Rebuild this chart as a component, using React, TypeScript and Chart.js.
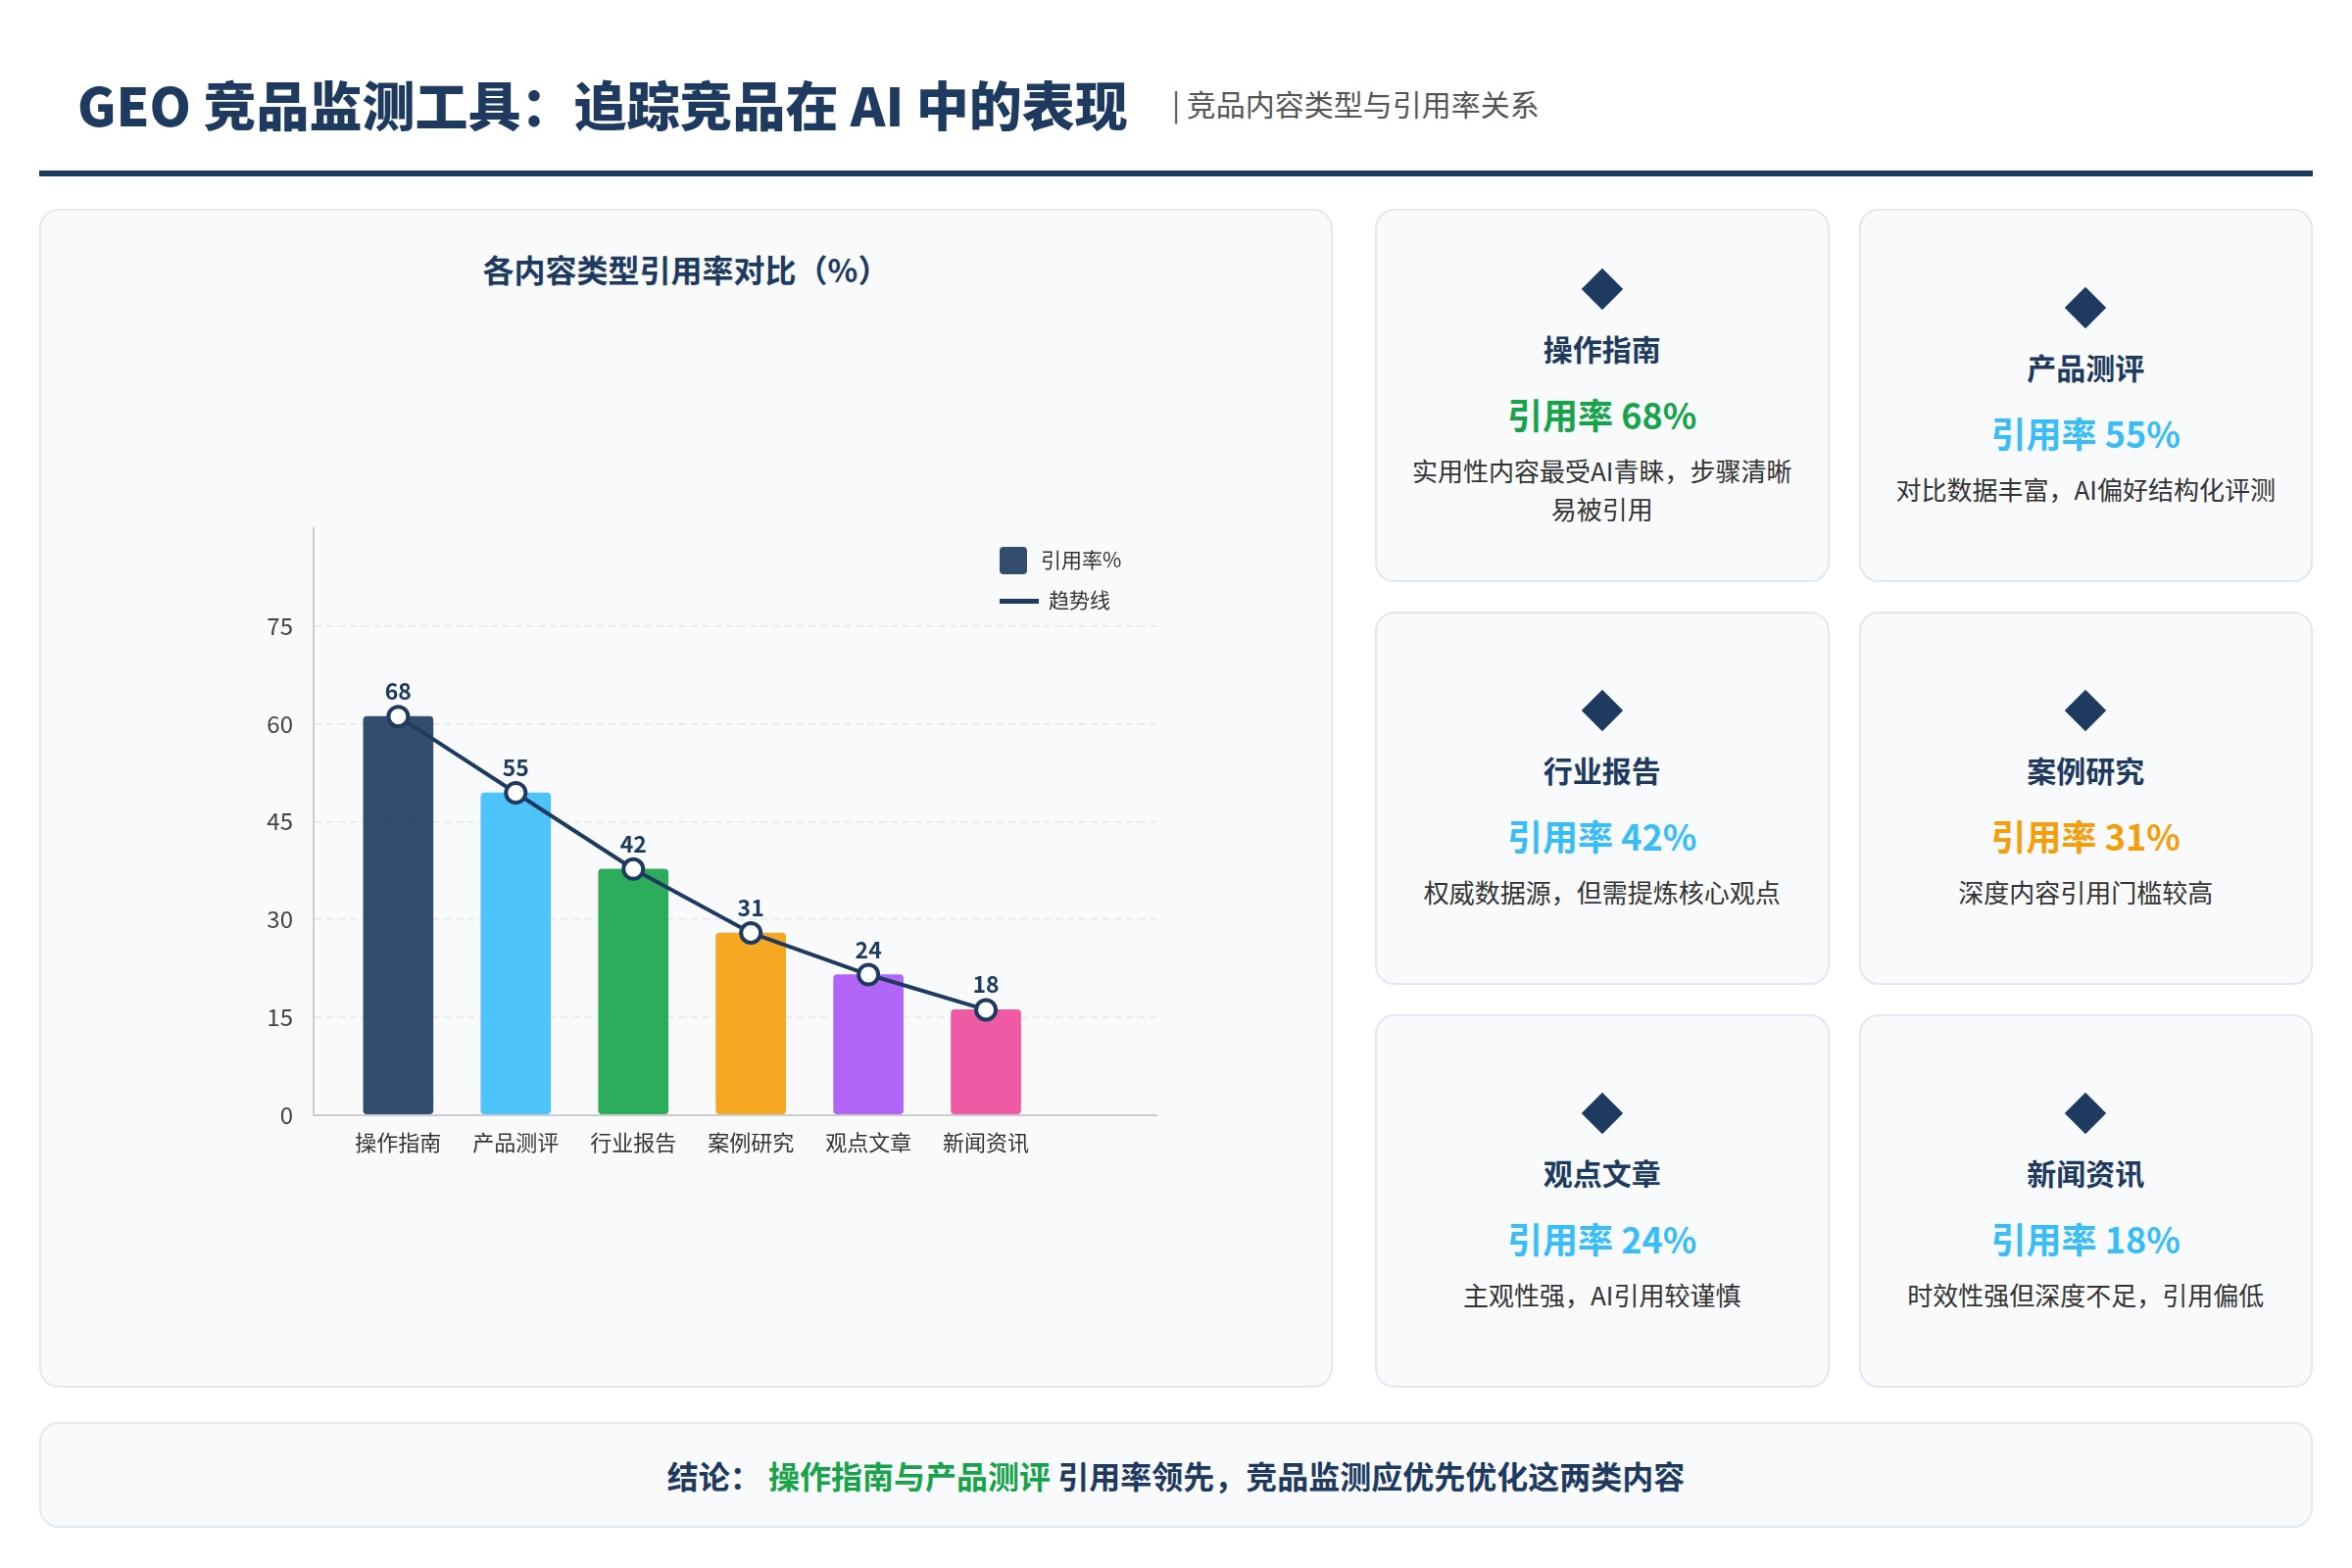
import { useEffect, useRef } from "react";
import { Chart, registerables } from "chart.js";

Chart.register(...registerables);

const FONT = "'Noto Sans CJK SC', 'Noto Sans', sans-serif";
const NAVY = "#1e3a5f";

const categories = ["操作指南", "产品测评", "行业报告", "案例研究", "观点文章", "新闻资讯"];
// rate shown in the labels and cards (%)
const citationRates = [68, 55, 42, 31, 24, 18];
// height the bars / trend points reach on the y axis, as drawn in the picture
const barHeights = [61.1, 49.4, 37.7, 27.9, 21.5, 16.1];
const barColors = [
  "rgba(30,58,95,0.9)",
  "rgba(56,189,248,0.9)",
  "rgba(22,163,74,0.9)",
  "rgba(245,158,11,0.9)",
  "rgba(168,85,247,0.9)",
  "rgba(236,72,153,0.9)",
];
const yTicks = [0, 15, 30, 45, 60, 75];

const rateColors = ["#16a34a", "#38bdf8", "#38bdf8", "#f59e0b", "#38bdf8", "#38bdf8"];
const notes = [
  "实用性内容最受AI青睐，步骤清晰易被引用",
  "对比数据丰富，AI偏好结构化评测",
  "权威数据源，但需提炼核心观点",
  "深度内容引用门槛较高",
  "主观性强，AI引用较谨慎",
  "时效性强但深度不足，引用偏低",
];

// draws the rate number above every trend point
const valueLabels = {
  id: "valueLabels",
  afterDatasetsDraw(chart: any) {
    const meta = chart.getDatasetMeta(0);
    const ctx = chart.ctx;
    ctx.save();
    ctx.font = `bold 23px ${FONT}`;
    ctx.fillStyle = NAVY;
    ctx.textAlign = "center";
    ctx.textBaseline = "alphabetic";
    meta.data.forEach((pt: any, i: number) => {
      ctx.fillText(String(citationRates[i]), pt.x, pt.y - 17);
    });
    ctx.restore();
  },
};

function RateChart() {
  const canvasRef = useRef<HTMLCanvasElement>(null);
  const chartRef = useRef<Chart | null>(null);

  useEffect(() => {
    if (!canvasRef.current) return;
    if (chartRef.current) chartRef.current.destroy();

    const points = categories.map((_, i) => ({ x: i, y: barHeights[i] }));

    chartRef.current = new Chart(canvasRef.current, {
      type: "bar",
      data: {
        datasets: [
          {
            type: "line",
            label: "趋势线",
            data: points,
            order: 0,
            borderColor: NAVY,
            borderWidth: 4,
            tension: 0,
            fill: false,
            pointRadius: 10,
            pointHoverRadius: 10,
            pointBackgroundColor: "#ffffff",
            pointBorderColor: NAVY,
            pointBorderWidth: 4,
          },
          {
            type: "bar",
            label: "引用率%",
            data: points,
            order: 1,
            backgroundColor: barColors,
            borderRadius: 4,
            borderSkipped: false,
            barThickness: 71,
          },
        ] as any,
      },
      options: {
        animation: false,
        responsive: true,
        maintainAspectRatio: false,
        layout: { padding: { top: 59, right: 40, bottom: 40, left: 0 } },
        plugins: {
          legend: { display: false },
          tooltip: { enabled: false },
        },
        scales: {
          x: {
            type: "linear",
            min: -0.72,
            max: 6.45,
            offset: false,
            afterBuildTicks: (s: any) => {
              s.ticks = categories.map((_, i) => ({ value: i }));
            },
            afterFit: (s: any) => {
              s.height = 42.5;
            },
            grid: { display: false, drawTicks: false, offset: false },
            border: { display: true, color: "#cccccc", width: 2 },
            ticks: {
              autoSkip: false,
              maxRotation: 0,
              padding: 15,
              color: "#333333",
              font: { family: FONT, size: 22 },
              callback: (v: any) => categories[v] ?? "",
            },
          },
          y: {
            min: 0,
            max: 90,
            afterBuildTicks: (s: any) => {
              s.ticks = yTicks.map((v) => ({ value: v }));
            },
            afterFit: (s: any) => {
              s.width = 80;
            },
            grid: {
              drawTicks: false,
              lineWidth: 1.5,
              color: (c: any) => (c.tick && c.tick.value === 0 ? "transparent" : "#e5e7eb"),
            },
            border: { display: true, color: "#cccccc", width: 2, dash: [7, 5] },
            ticks: {
              padding: 21,
              color: "#444444",
              font: { family: FONT, size: 24 },
            },
          },
        },
      } as any,
      plugins: [valueLabels],
    });

    return () => {
      if (chartRef.current) {
        chartRef.current.destroy();
        chartRef.current = null;
      }
    };
  }, []);

  return <canvas ref={canvasRef}></canvas>;
}

const cardBox = {
  position: "absolute" as const,
  background: "#f8fafc",
  border: "2px solid #e2e8f0",
  borderRadius: 20,
  boxSizing: "border-box" as const,
};

function InfoCard({ i }: { i: number }) {
  return (
    <div
      style={{
        ...cardBox,
        position: "relative",
        display: "flex",
        flexDirection: "column",
        alignItems: "center",
        justifyContent: "center",
        padding: "4px 30px 0 30px",
        textAlign: "center",
      }}
    >
      <div style={{ width: 42, height: 42, display: "flex", alignItems: "center", justifyContent: "center" }}>
        <div style={{ width: 30, height: 30, background: NAVY, transform: "rotate(45deg)" }} />
      </div>
      <div style={{ marginTop: 24, fontSize: 30, lineHeight: 1, fontWeight: 700, color: NAVY }}>{categories[i]}</div>
      <div style={{ marginTop: 34, fontSize: 36, lineHeight: 1, fontWeight: 700, color: rateColors[i] }}>
        引用率 {citationRates[i]}%
      </div>
      <div style={{ marginTop: 20, fontSize: 26, lineHeight: "39px", color: "#333333" }}>{notes[i]}</div>
    </div>
  );
}

export default function App() {
  return (
    <div
      style={{
        position: "absolute",
        left: 0,
        top: 0,
        width: 2400,
        height: 1600,
        background: "#ffffff",
        fontFamily: FONT,
      }}
    >
      <div style={{ position: "absolute", left: 79, top: 79, fontSize: 54, lineHeight: 1, fontWeight: 900, color: NAVY, whiteSpace: "nowrap" }}>
        GEO 竞品监测工具：追踪竞品在 AI 中的表现
      </div>
      <div style={{ position: "absolute", left: 1196, top: 90, fontSize: 30, lineHeight: 1, color: "#555555", whiteSpace: "nowrap" }}>
        | 竞品内容类型与引用率关系
      </div>
      <div style={{ position: "absolute", left: 40, top: 174, width: 2320, height: 6, background: NAVY }} />

      {/* chart card */}
      <div style={{ ...cardBox, left: 40, top: 213, width: 1320, height: 1203 }} />
      <div
        style={{
          position: "absolute",
          left: 40,
          top: 258,
          width: 1320,
          textAlign: "center",
          fontSize: 32,
          lineHeight: 1,
          fontWeight: 700,
          color: NAVY,
        }}
      >
        各内容类型引用率对比（%）
      </div>
      <div style={{ position: "absolute", left: 240, top: 480, width: 980, height: 740 }}>
        <RateChart />
      </div>
      {/* legend */}
      <div style={{ position: "absolute", left: 1020, top: 558, width: 28, height: 28, borderRadius: 4, background: barColors[0] }} />
      <div style={{ position: "absolute", left: 1062, top: 560, fontSize: 21, lineHeight: 1, color: "#333333", whiteSpace: "nowrap" }}>引用率%</div>
      <div style={{ position: "absolute", left: 1020, top: 611, width: 40, height: 5, background: NAVY }} />
      <div style={{ position: "absolute", left: 1070, top: 601, fontSize: 21, lineHeight: 1, color: "#333333", whiteSpace: "nowrap" }}>趋势线</div>

      {/* category cards */}
      <div
        style={{
          position: "absolute",
          left: 1403,
          top: 213,
          width: 957,
          height: 1203,
          display: "grid",
          gridTemplateColumns: "1fr 1fr",
          gridTemplateRows: "1fr 1fr 1fr",
          columnGap: 30,
          rowGap: 30,
        }}
      >
        {categories.map((_, i) => (
          <InfoCard key={i} i={i} />
        ))}
      </div>

      {/* conclusion */}
      <div
        style={{
          ...cardBox,
          left: 40,
          top: 1451,
          width: 2320,
          height: 108,
          display: "flex",
          alignItems: "center",
          justifyContent: "center",
          fontSize: 32,
          fontWeight: 700,
          color: NAVY,
          whiteSpace: "pre",
        }}
      >
        <span>结论： </span>
        <span style={{ color: "#16a34a" }}>操作指南与产品测评</span>
        <span> 引用率领先，竞品监测应优先优化这两类内容</span>
      </div>
    </div>
  );
}
